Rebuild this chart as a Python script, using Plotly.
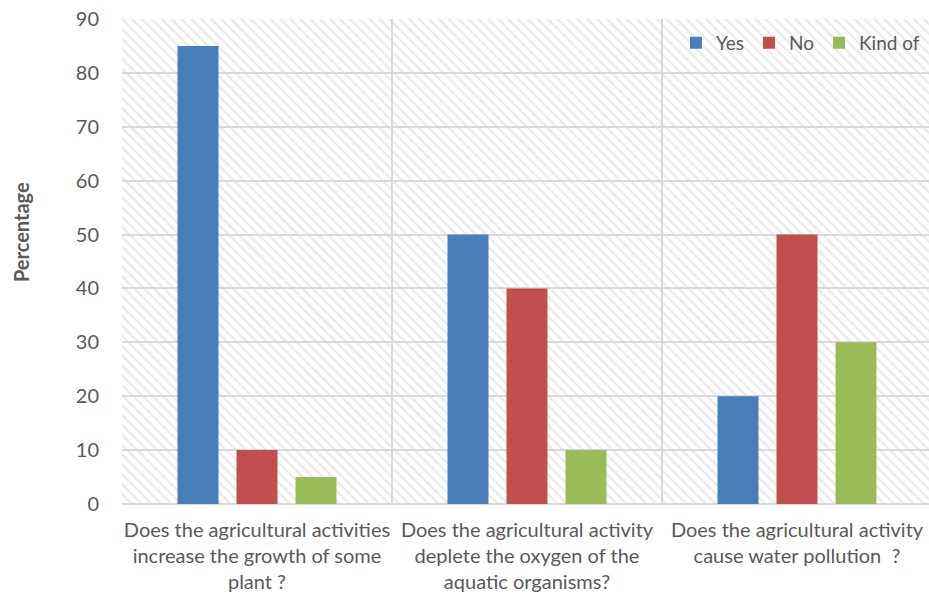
import plotly.graph_objects as go

categories = [
    "Does the agricultural activities<br>increase the growth of some<br>plant ?",
    "Does the agricultural activity<br>deplete the oxygen of the<br>aquatic organisms?",
    "Does the agricultural activity<br>cause water pollution  ?",
]
series_names = ["Yes", "No", "Kind of"]
yes_vals = [85, 50, 20]
no_vals = [10, 40, 50]
kind_vals = [5, 10, 30]
colors = ["#4a7ebb", "#c0504d", "#9bbb59"]
y_ticks = [0, 10, 20, 30, 40, 50, 60, 70, 80, 90]

FONT = "Lato, 'Open Sans', sans-serif"
TXT = "#595959"

fig = go.Figure()

# hatched plot background (one bar per category spanning full height)
fig.add_trace(go.Bar(
    x=categories, y=[max(y_ticks)] * len(categories), width=1.0, offset=-0.5,
    marker=dict(color="rgba(0,0,0,0)", line=dict(width=0),
                pattern=dict(shape="\\", fgcolor="#d6d6d6", bgcolor="rgba(0,0,0,0)",
                             size=7, solidity=0.35)),
    showlegend=False, hoverinfo="skip",
))

bar_w = 41 / 270
slot = 59 / 270
for i, (name, vals) in enumerate(zip(series_names, [yes_vals, no_vals, kind_vals])):
    fig.add_trace(go.Bar(
        name=name, x=categories, y=vals, width=bar_w,
        offset=(i - 1) * slot - bar_w / 2,
        marker=dict(color=colors[i], line=dict(width=0)),
    ))

fig.update_layout(
    width=929, height=594,
    margin=dict(l=122, r=0, t=19, b=90, autoexpand=False),
    barmode="overlay",
    paper_bgcolor="white", plot_bgcolor="white",
    font=dict(family=FONT, color=TXT, size=20),
    legend=dict(orientation="h", x=0.995, xanchor="right", y=0.99, yanchor="top",
                bgcolor="rgba(0,0,0,0)", font=dict(size=19, color=TXT),
                traceorder="normal", itemwidth=30),
    xaxis=dict(type="category", range=[-0.5, 2.5 - 3 / 270], tickson="boundaries",
               showgrid=True, gridcolor="#d9d9d9", gridwidth=1.5, tickangle=0,
               automargin=False, ticklabelstandoff=12,
               ticks="outside", ticklen=8, tickcolor="rgba(0,0,0,0)",
               tickfont=dict(size=20, color=TXT), showline=False, fixedrange=True),
    yaxis=dict(range=[0, 90], tickvals=y_ticks, showgrid=True, gridcolor="#d9d9d9",
               gridwidth=1.5, zeroline=True, zerolinecolor="#d9d9d9", zerolinewidth=1.5,
               automargin=False,
               ticks="outside", ticklen=18, tickcolor="rgba(0,0,0,0)",
               tickfont=dict(size=20, color=TXT)),
    annotations=[dict(text="<b>Percentage</b>", textangle=-90, xref="paper", yref="paper",
                      x=-0.125, y=0.561, xanchor="center", yanchor="middle", showarrow=False,
                      font=dict(size=20, color=TXT))],
)

fig.write_html("out.html")
